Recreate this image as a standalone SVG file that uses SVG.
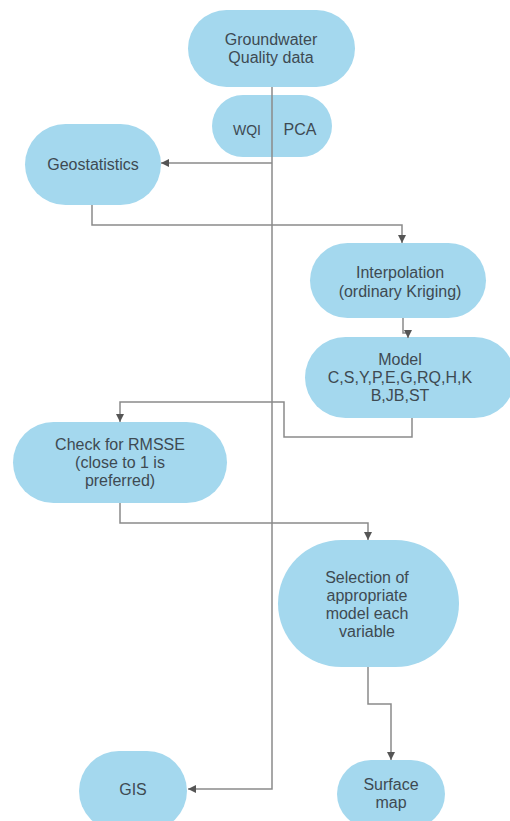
<svg xmlns="http://www.w3.org/2000/svg" width="510" height="821" viewBox="0 0 510 821">
<defs>
<style>
.n{fill:#a4d8ee;stroke:none}
.t{font-family:"Liberation Sans",Arial,sans-serif;font-size:16px;fill:#3e4a52;text-anchor:middle}
.c{fill:none;stroke:#8a8a8a;stroke-width:1.5}
</style>
<marker id="ah" markerWidth="10" markerHeight="10" refX="9" refY="5" orient="auto" markerUnits="userSpaceOnUse">
<path d="M1,1 L9,5 L1,9 Z" fill="#555"/>
</marker>
</defs>
<rect width="510" height="821" fill="#fff"/>
<g id="groundwater">
<rect class="n" x="188" y="10" width="167" height="77" rx="38.5"/>
<text class="t" x="271" y="45">Groundwater</text>
<text class="t" x="271" y="63">Quality data</text>
</g>
<g id="wqipca">
<rect class="n" x="212" y="95" width="120" height="62" rx="31"/>
<text class="t" x="247" y="135" style="font-size:14px">WQI</text>
<text class="t" x="300" y="135">PCA</text>
</g>
<g id="geostatistics">
<rect class="n" x="25" y="124" width="136" height="81" rx="40.5"/>
<text class="t" x="93" y="170">Geostatistics</text>
</g>
<g id="interpolation">
<rect class="n" x="310" y="243" width="176" height="75" rx="37.5"/>
<text class="t" x="400" y="278">Interpolation</text>
<text class="t" x="400" y="297">(ordinary Kriging)</text>
</g>
<g id="model">
<rect class="n" x="305" y="337" width="210" height="81" rx="40.5"/>
<text class="t" x="400" y="365">Model</text>
<text class="t" x="400" y="383">C,S,Y,P,E,G,RQ,H,K</text>
<text class="t" x="400" y="401">B,JB,ST</text>
</g>
<g id="rmsse">
<rect class="n" x="13" y="422" width="214" height="81" rx="40.5"/>
<text class="t" x="120" y="450">Check for RMSSE</text>
<text class="t" x="120" y="468">(close to 1 is</text>
<text class="t" x="120" y="486">preferred)</text>
</g>
<g id="selection">
<rect class="n" x="278" y="540" width="181" height="127" rx="63.5"/>
<text class="t" x="367" y="583">Selection of</text>
<text class="t" x="367" y="601">appropriate</text>
<text class="t" x="367" y="619">model each</text>
<text class="t" x="367" y="637">variable</text>
</g>
<g id="gis">
<rect class="n" x="79" y="751" width="108" height="80" rx="40"/>
<text class="t" x="133" y="795">GIS</text>
</g>
<g id="surface">
<rect class="n" x="337" y="760" width="108" height="68" rx="34"/>
<text class="t" x="391" y="790">Surface</text>
<text class="t" x="391" y="808">map</text>
</g>
<g id="connectors">
<path class="c" d="M272,87 V789 H188" marker-end="url(#ah)"/>
<path class="c" d="M272,163 H161" marker-end="url(#ah)"/>
<path class="c" d="M92,205 V225 H402 V243" marker-end="url(#ah)"/>
<path class="c" d="M403,318 V333 H408 V338" marker-end="url(#ah)"/>
<path class="c" d="M412,418 V437 H284 V402 H120 V422" marker-end="url(#ah)"/>
<path class="c" d="M120,503 V523 H368 V540" marker-end="url(#ah)"/>
<path class="c" d="M368,667 V704 H391 V760" marker-end="url(#ah)"/>
</g>
</svg>
